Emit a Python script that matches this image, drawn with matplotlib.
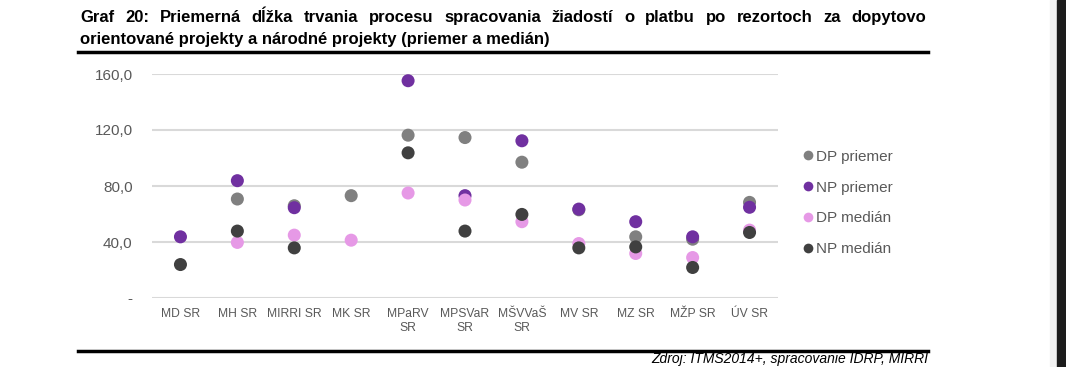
import numpy as np
import matplotlib
matplotlib.use('Agg')
import matplotlib.pyplot as plt
from matplotlib.lines import Line2D
from matplotlib.patches import Rectangle

plt.rcParams['font.family'] = ['Liberation Sans', 'DejaVu Sans']

categories = ['MD SR', 'MH SR', 'MIRRI SR', 'MK SR', 'MPaRV\nSR', 'MPSVaR\nSR',
              'MŠVVaŠ\nSR', 'MV SR', 'MZ SR', 'MŽP SR', 'ÚV SR']
nan = np.nan
dp_priemer = [nan, 70.7, 65.9, 73.1, 116.3, 114.6, 97.0, 63.0, 43.7, 42.0, 68.3]
np_priemer = [43.7, 83.8, 64.5, nan, 155.2, 73.1, 112.3, 63.5, 54.5, 43.7, 64.8]
dp_median = [nan, 39.7, 44.9, 41.3, 75.0, 70.0, 54.5, 38.9, 31.8, 28.9, 48.5]
np_median = [23.9, 47.8, 35.8, nan, 103.7, 47.8, 59.7, 35.8, 36.5, 21.8, 46.8]

series = [('DP priemer', dp_priemer, '#808080'),
          ('NP priemer', np_priemer, '#7030a0'),
          ('DP medián', dp_median, '#e699e6'),
          ('NP medián', np_median, '#404040')]

W, H = 1066, 367
fig = plt.figure(figsize=(W / 100, H / 100), dpi=100)

def fx(px):
    return px / W

def fy(py):
    return 1 - py / H

ax = fig.add_axes([fx(152), fy(298), fx(778) - fx(152), fy(74) - fy(298)])
x = np.arange(len(categories))
for name, vals, col in series:
    ax.scatter(x, vals, s=88, color=col, edgecolors='none', zorder=3, clip_on=False)

ax.set_xlim(-0.5, len(categories) - 0.5)
ax.set_ylim(0, 160)
ax.set_yticks([0, 40, 80, 120, 160])
ax.set_yticklabels(['-', '40,0', '80,0', '120,0', '160,0'])
ax.set_xticks(x)
ax.set_xticklabels(categories)
ax.grid(axis='y', color='#d9d9d9', linewidth=1.5, zorder=0)
ax.set_axisbelow(True)
for s in ax.spines.values():
    s.set_visible(False)
ax.tick_params(axis='y', length=0, pad=14, labelsize=11, labelcolor='#595959')
ax.tick_params(axis='x', length=0, pad=7, labelsize=8.7, labelcolor='#595959')

handles = [Line2D([], [], marker='o', linestyle='none', markersize=7,
                  markerfacecolor=c, markeredgecolor='none', label=n)
           for n, v, c in series]
leg = fig.legend(handles=handles, loc='center left', bbox_to_anchor=(fx(790), fy(203)),
                 frameon=False, handlelength=0.5, handletextpad=0.3,
                 labelspacing=1.1, fontsize=11)
for t in leg.get_texts():
    t.set_color('#595959')

# title, first line justified
line1 = 'Graf 20: Priemerná dĺžka trvania procesu spracovania žiadostí o platbu po rezortoch za dopytovo'
line2 = 'orientované projekty a národné projekty (priemer a medián)'
words = line1.split(' ')
renderer = fig.canvas.get_renderer()
tmp = []
for w in words:
    t = fig.text(0, 0, w, fontsize=12, fontweight='bold')
    tmp.append(t)
widths = [t.get_window_extent(renderer).width for t in tmp]
gap = (926 - 80 - sum(widths)) / (len(words) - 1)
pos = 80
for t, w in zip(tmp, widths):
    t.set_position((fx(pos), fy(22)))
    pos += w + gap
fig.text(fx(80), fy(44), line2, fontsize=12, fontweight='bold')

fig.add_artist(Line2D([fx(78), fx(928)], [fy(52), fy(52)], color='black', linewidth=2.5))
fig.add_artist(Line2D([fx(78), fx(928)], [fy(351), fy(351)], color='black', linewidth=2.5))
fig.text(fx(928), fy(366), 'Zdroj: ITMS2014+, spracovanie IDRP, MIRRI', ha='right', va='bottom',
         fontsize=10, style='italic')

fig.add_artist(Rectangle((fx(1050), 0), fx(7), 1, transform=fig.transFigure,
                         color='#f2f2f2', zorder=0))
fig.add_artist(Rectangle((fx(1057), 0), fx(9), 1, transform=fig.transFigure,
                         color='#1c1c1c', zorder=0))

fig.savefig('out.png', dpi=100)
